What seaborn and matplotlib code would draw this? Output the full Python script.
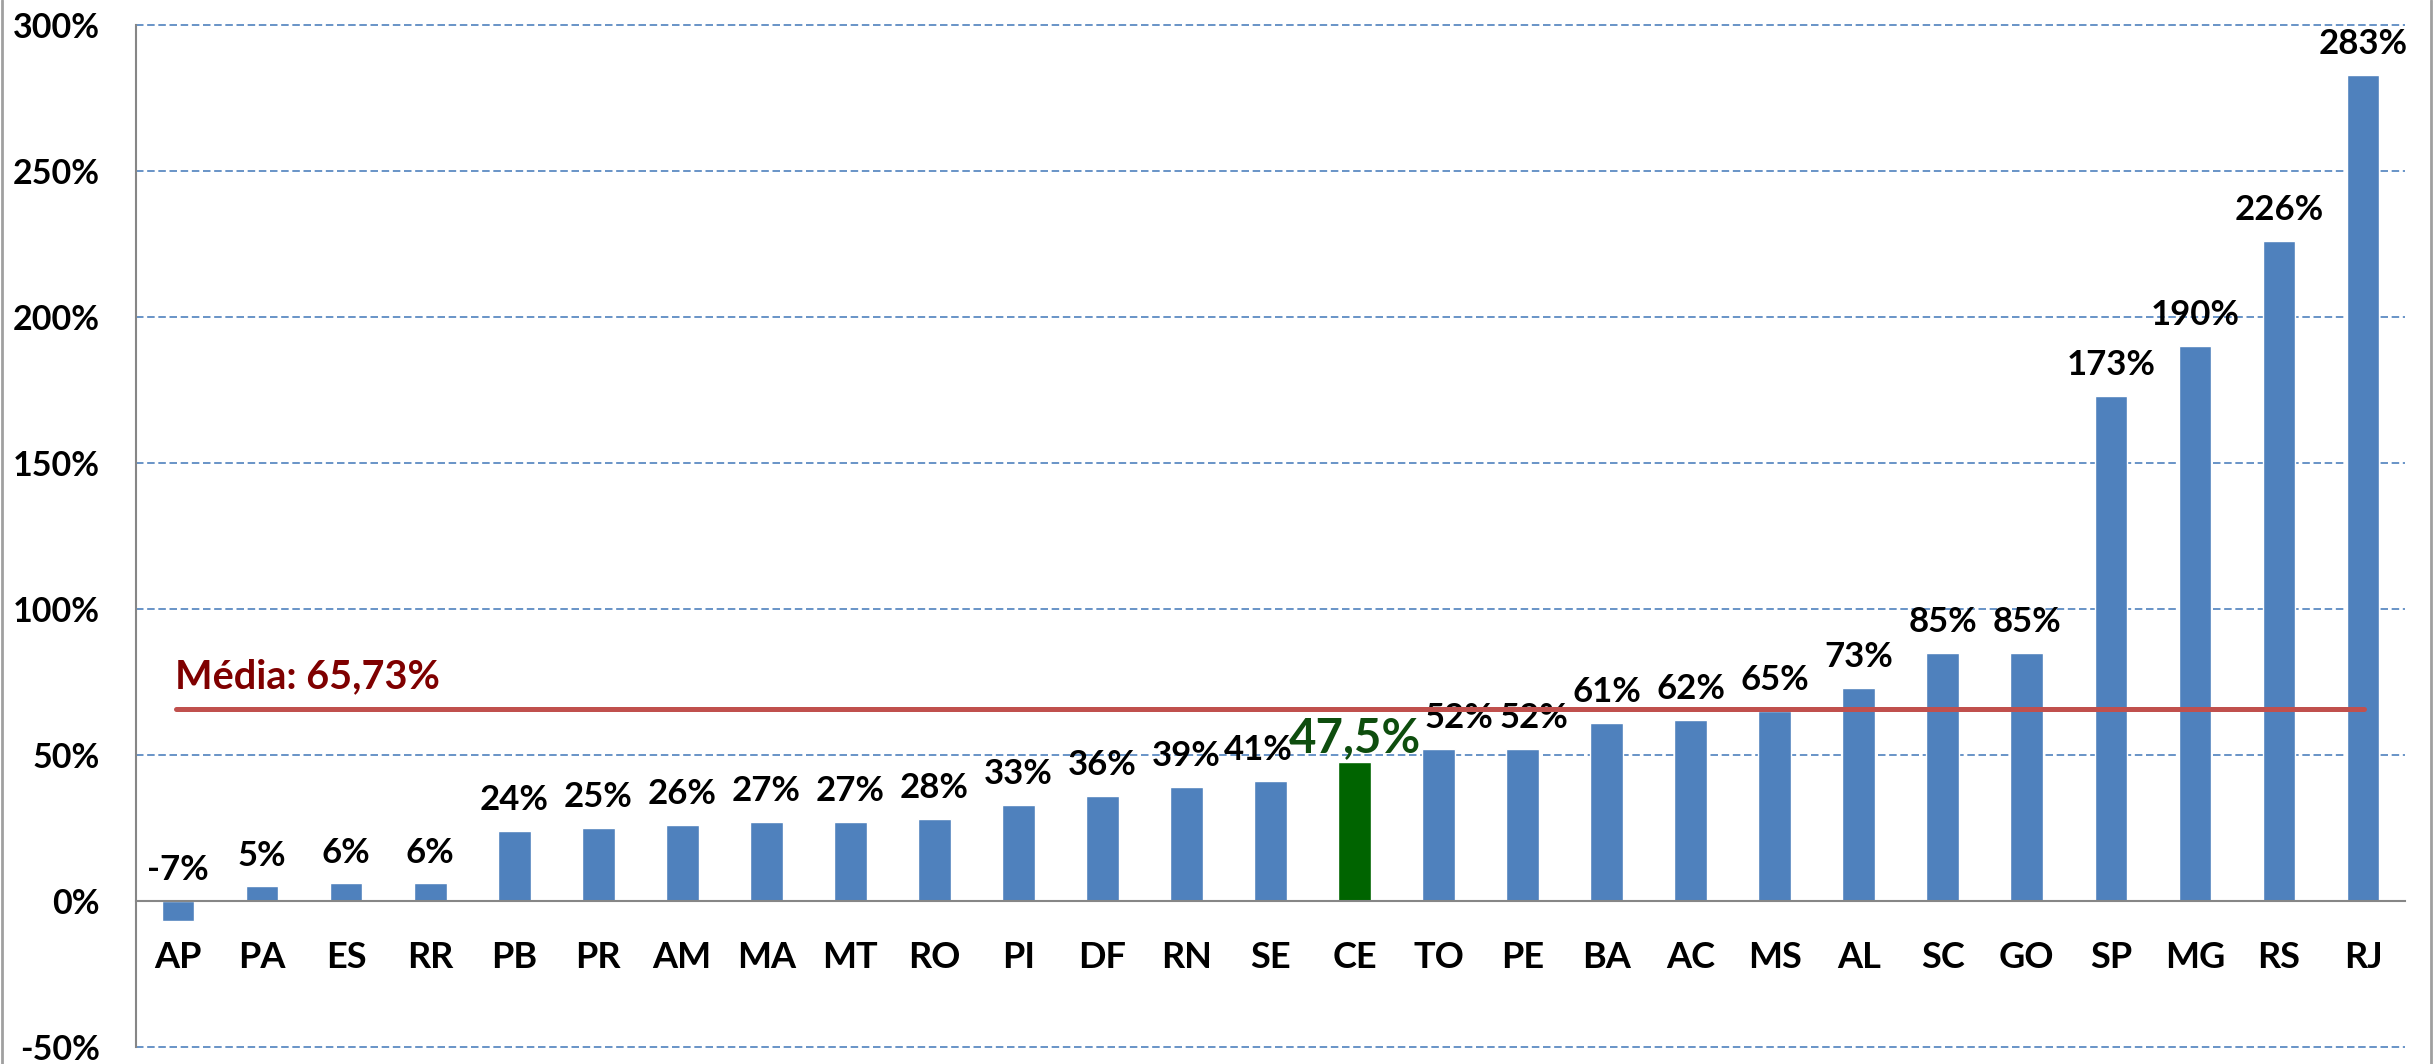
import matplotlib
matplotlib.use('Agg')
import matplotlib.pyplot as plt
import seaborn as sns
from matplotlib.ticker import FixedLocator, FuncFormatter
from matplotlib.lines import Line2D

# Data
estados = ['AP', 'PA', 'ES', 'RR', 'PB', 'PR', 'AM', 'MA', 'MT', 'RO', 'PI', 'DF', 'RN', 'SE',
           'CE', 'TO', 'PE', 'BA', 'AC', 'MS', 'AL', 'SC', 'GO', 'SP', 'MG', 'RS', 'RJ']
variacao = [-7, 5, 6, 6, 24, 25, 26, 27, 27, 28, 33, 36, 39, 41,
            47.5, 52, 52, 61, 62, 65, 73, 85, 85, 173, 190, 226, 283]
media = 65.73
destaque = 'CE'
y_ticks = [-50, 0, 50, 100, 150, 200, 250, 300]
# labels nudged sideways around the highlighted bar (points)
desloc = {'SE': -9, 'TO': 15, 'PE': 8}

sns.set_style('white')
plt.rcParams['font.family'] = ['Lato', 'DejaVu Sans']

cores = ['#006400' if e == destaque else '#4F81BD' for e in estados]

fig = plt.figure(figsize=(24.33, 10.64), dpi=100)
ax = fig.add_axes([0.0559, 0.016, 0.9326, 0.9605])

sns.barplot(x=estados, y=variacao, hue=estados, palette=cores, legend=False,
            width=0.39, ax=ax, saturation=1)

ax.set_xlim(-0.5, len(estados) - 0.5)
ax.set_ylim(-50, 300)

# grid
ax.yaxis.set_major_locator(FixedLocator(y_ticks))
ax.yaxis.set_major_formatter(FuncFormatter(lambda v, p: f'{v:.0f}%'))
ax.grid(axis='y', color='#4F81BD', linestyle=(0, (4.5, 2.2)), linewidth=1.2)
ax.set_axisbelow(True)
for gl in ax.get_ygridlines():
    gl.set_clip_on(False)

# spines
for s in ['top', 'right']:
    ax.spines[s].set_visible(False)
ax.spines['left'].set_color('#868686')
ax.spines['left'].set_linewidth(1.5)
ax.spines['bottom'].set_position(('data', 0))
ax.spines['bottom'].set_color('#868686')
ax.spines['bottom'].set_linewidth(1.5)

# ticks
ax.set_xticks(range(len(estados)))
ax.set_xticks([i - 0.5 for i in range(len(estados) + 1)], minor=True)
ax.tick_params(axis='x', which='major', length=0, pad=29, labelsize=26)
ax.tick_params(axis='x', which='minor', length=10, width=1.5, color='#868686', direction='out')
ax.tick_params(axis='y', length=0, pad=26, labelsize=24.5)
for lbl in ax.get_xticklabels() + ax.get_yticklabels():
    lbl.set_fontweight('bold')
    lbl.set_color('black')

# value labels
for i, (e, v) in enumerate(zip(estados, variacao)):
    dx = desloc.get(e, 0)
    if e == destaque:
        txt = f'{v:.1f}%'.replace('.', ',')
        ax.annotate(txt, (i, v), xytext=(0, 7), textcoords='offset points',
                    ha='center', va='baseline', fontsize=34, fontweight='bold', color='#0E4D0E')
    else:
        ax.annotate(f'{v:.0f}%', (i, max(v, 0)), xytext=(dx, 15), textcoords='offset points',
                    ha='center', va='baseline', fontsize=25, fontweight='bold', color='black')

# mean line
ax.hlines(media, -0.02, len(estados) - 0.99, color='#C0504D', linewidth=3.6, capstyle='round', zorder=4)
ax.text(-0.04, media + 7.3, f'Média: {media:.2f}%'.replace('.', ','), ha='left', va='baseline',
        fontsize=28.5, fontweight='bold', color='#7F0000')

ax.set_xlabel('')
ax.set_ylabel('')

# outer frame lines
fig.add_artist(Line2D([0.0008, 0.0008], [0, 1], transform=fig.transFigure, color='#A0A0A0', linewidth=2))
fig.add_artist(Line2D([0.9992, 0.9992], [0, 1], transform=fig.transFigure, color='#A0A0A0', linewidth=2))

fig.savefig('out.png', dpi=100)
